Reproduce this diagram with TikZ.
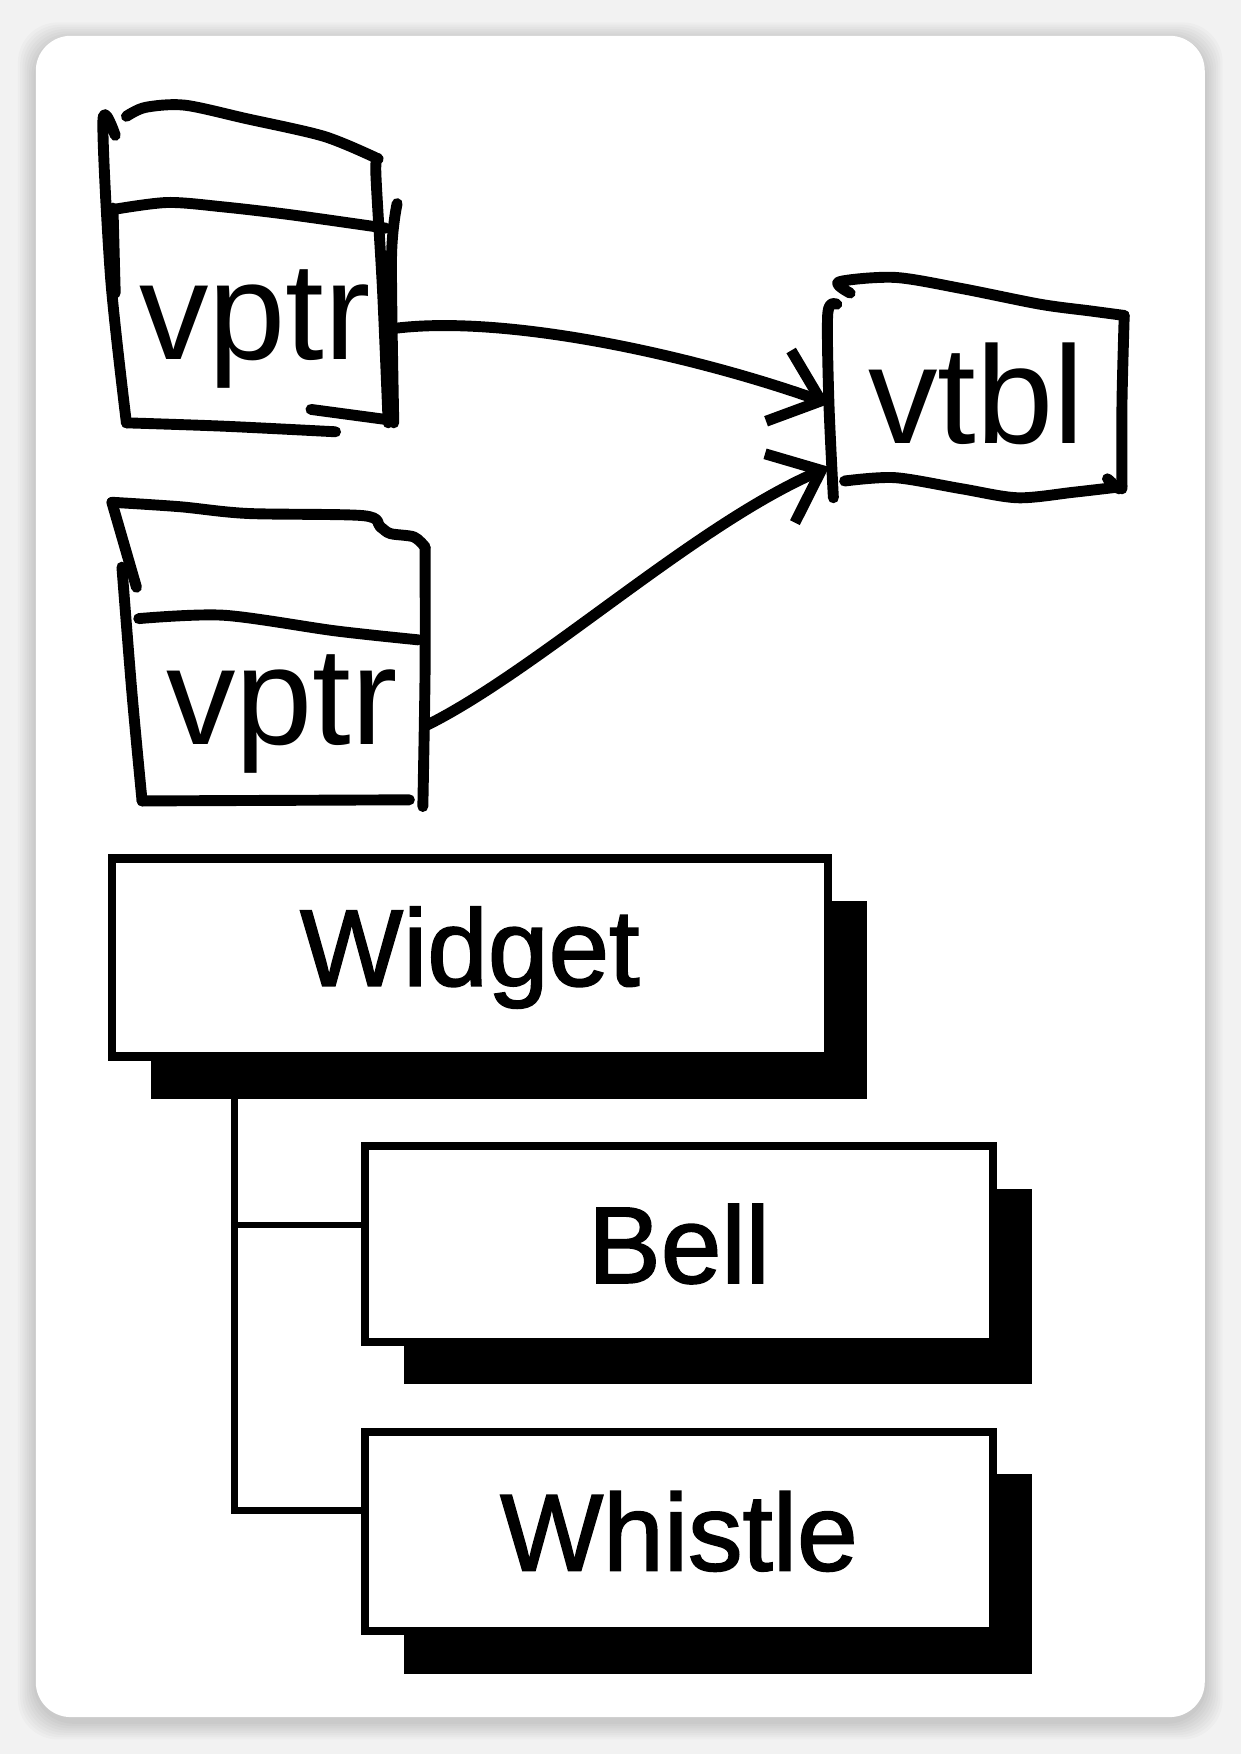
\documentclass[tikz,border=0pt]{standalone}
\usepackage{fontspec}
\setmainfont{Liberation Sans}
\newfontfamily\heavyfont[FakeBold=1.6]{Liberation Sans}
\usetikzlibrary{arrows.meta, positioning, shadows}
\definecolor{page1}{rgb}{0.95,0.95,0.95}

\begin{document}
\begin{tikzpicture}[x=0.02236cm, y=-0.02236cm]
    \tikzstyle{handline} = [line width=6.2pt, line cap=round, line join=round]
    \tikzstyle{handarrow} = [handline, -{Straight Barb[length=0.9cm, width=1.5cm]}]
    \tikzstyle{compart} = [draw=none, inner sep=0pt, font=\fontsize{79}{79}\selectfont]
    \tikzstyle{classbox} = [draw, line width=4.8pt, fill=white, inner sep=0pt,
                            font=\heavyfont\fontsize{62}{62}\selectfont,
                            drop shadow={shadow xshift=0.78cm, shadow yshift=-0.85cm, fill=black, opacity=1}]
    \tikzstyle{linkline} = [line width=3.6pt]

    % card
    \useasboundingbox (0,0) rectangle (1109,1568);
    \fill[page1] (0,0) rectangle (1109,1568);
    \foreach \s in {2,4,...,16}
        \fill[black, opacity=0.02, rounded corners=0.8cm] (32-\s,32-\s+4) rectangle (1077+\s,1535+\s+4);
    \fill[white, rounded corners=0.7cm] (32,32) rectangle (1077,1535);

    % objects and vtbl
    \node[compart, minimum width=5.41cm, minimum height=3.91cm] (obj1) at (228,294) {vptr};
    \node[compart, minimum width=5.70cm, minimum height=3.49cm] (obj2) at (252,638) {vptr};
    \node[compart, minimum width=5.88cm, minimum height=3.91cm] (vtbl) at (873,352) {vtbl};

    % first object outline
    \draw[handline] plot[smooth] coordinates {(113,104) (130,96) (165,94) (220,106) (290,122) (338,142)};
    \draw[handline] plot[smooth] coordinates {(338,142) (336,155) (342,260) (347,378)};
    \draw[handline] plot[smooth] coordinates {(355,182) (350,230) (352,378)};
    \draw[handline] plot[smooth] coordinates {(103,121) (92,108) (99,250) (113,378)};
    \draw[handline] (101,186) -- (103,262);
    \draw[handline] plot[smooth] coordinates {(103,187) (150,181) (200,185) (260,192) (345,204)};
    \draw[handline] plot[smooth] coordinates {(113,378) (200,381) (300,386)};
    \draw[handline] (278,366) -- (345,375);

    % second object outline
    \draw[handline] plot[smooth] coordinates {(100,449) (161,453) (221,459) (325,461) (340,471) (349,477) (370,480) (380,489)};
    \draw[handline] plot[smooth] coordinates {(380,489) (380,600) (378,721)};
    \draw[handline] (100,449) -- (122,525);
    \draw[handline] plot[smooth] coordinates {(109,507) (118,620) (127,716)};
    \draw[handline] plot[smooth] coordinates {(124,553) (200,550) (300,564) (374,572)};
    \draw[handline] (127,716) -- (366,715);

    % vtbl outline
    \draw[handline] plot[smooth] coordinates {(760,262) (750,252) (800,248) (860,258) (930,272) (975,278) (1005,282)};
    \draw[handline] plot[smooth] coordinates {(1005,282) (1003,360) (1003,437)};
    \draw[handline] plot[smooth] coordinates {(748,272) (740,280) (741,360) (745,445)};
    \draw[handline] plot[smooth] coordinates {(755,430) (800,427) (860,437) (910,445) (960,440) (1003,435)};
    \draw[handline] (990,428) -- (1000,437);

    \draw[handarrow] (obj1.east) .. controls (450,280) and (620,318) .. ([yshift=-0.2cm]vtbl.west);
    \draw[handarrow] ([yshift=-0.25cm]obj2.east) .. controls (480,600) and (620,470) .. ([yshift=0.5cm]vtbl.south west);

    % class tree
    \node[classbox, minimum width=14.31cm, minimum height=3.96cm] (widget)  at (420,856)  {Widget};
    \node[classbox, minimum width=12.54cm, minimum height=3.91cm] (bell)    at (607,1112) {Bell};
    \node[classbox, minimum width=12.54cm, minimum height=3.98cm] (whistle) at (607,1369) {Whistle};

    \coordinate (trunk) at ([xshift=-4.70cm]widget.south);
    \draw[linkline] (trunk) |- ([yshift=0.38cm]bell.west);
    \draw[linkline] (trunk) |- ([yshift=0.42cm]whistle.west);
\end{tikzpicture}
\end{document}
